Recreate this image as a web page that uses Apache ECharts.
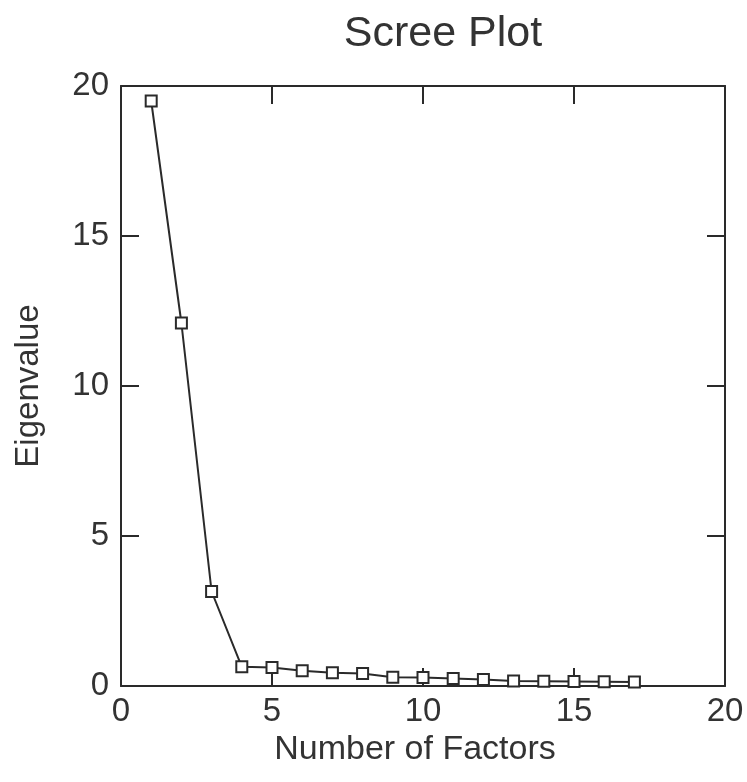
<!DOCTYPE html>
<html><head><meta charset="utf-8">
<script src="https://cdn.jsdelivr.net/npm/echarts@6/dist/echarts.min.js"></script>
<style>html,body{margin:0;padding:0;background:#fff}#c{width:747px;height:782px}</style>
</head><body><div id="c"></div>
<script>
const factors = [1,2,3,4,5,6,7,8,9,10,11,12,13,14,15,16,17];
const eigenvalues = [19.5,12.1,3.15,0.64,0.62,0.51,0.44,0.42,0.29,0.28,0.25,0.22,0.17,0.16,0.15,0.14,0.13];
const xTicks = [0,5,10,15,20];
const yTicks = [0,5,10,15,20];
const titleText = 'Scree Plot';
const xName = 'Number of Factors';
const yName = 'Eigenvalue';

const font = "'Liberation Sans',Arial,sans-serif";
const ink = '#2a2a2a';
const chart = echarts.init(document.getElementById('c'));
const frameAxis = () => ({show: true, onZero: false, lineStyle: {color: ink, width: 2}});
const tick = {inside: true, length: 18, lineStyle: {color: ink, width: 2}};
chart.setOption({
  backgroundColor: '#fff',
  animation: false,
  title: {text: titleText, left: 438, top: 8, textAlign: 'center',
    textStyle: {fontFamily: font, fontSize: 43, fontWeight: 'normal', color: '#333'}},
  grid: {left: 121, top: 86, width: 604, height: 600},
  xAxis: [
    {type: 'value', min: xTicks[0], max: xTicks[xTicks.length-1], interval: 5, position: 'bottom',
     name: xName, nameLocation: 'middle', nameGap: 39,
     nameTextStyle: {fontFamily: font, fontSize: 34, color: '#333', padding: [0, 16, 0, 0]},
     axisLine: frameAxis(), axisTick: tick,
     axisLabel: {fontFamily: font, fontSize: 33, color: '#333', margin: 9}, splitLine: {show: false}},
    {type: 'value', min: xTicks[0], max: xTicks[xTicks.length-1], interval: 5, position: 'top',
     axisLine: frameAxis(), axisTick: tick,
     axisLabel: {show: false}, splitLine: {show: false}}
  ],
  yAxis: [
    {type: 'value', min: yTicks[0], max: yTicks[yTicks.length-1], interval: 5, position: 'left',
     name: yName, nameLocation: 'middle', nameGap: 76, nameRotate: 90,
     nameTextStyle: {fontFamily: font, fontSize: 33, color: '#333'},
     axisLine: frameAxis(), axisTick: tick,
     axisLabel: {fontFamily: font, fontSize: 33, color: '#333', margin: 12}, splitLine: {show: false}},
    {type: 'value', min: yTicks[0], max: yTicks[yTicks.length-1], interval: 5, position: 'right',
     axisLine: frameAxis(), axisTick: tick,
     axisLabel: {show: false}, splitLine: {show: false}}
  ],
  series: [{
    type: 'line', xAxisIndex: 0, yAxisIndex: 0,
    data: factors.map((f, i) => [f, eigenvalues[i]]),
    symbol: 'rect', symbolSize: 11, showAllSymbol: true,
    lineStyle: {color: ink, width: 2},
    itemStyle: {color: '#fff', borderColor: ink, borderWidth: 2}
  }]
});
</script></body></html>
